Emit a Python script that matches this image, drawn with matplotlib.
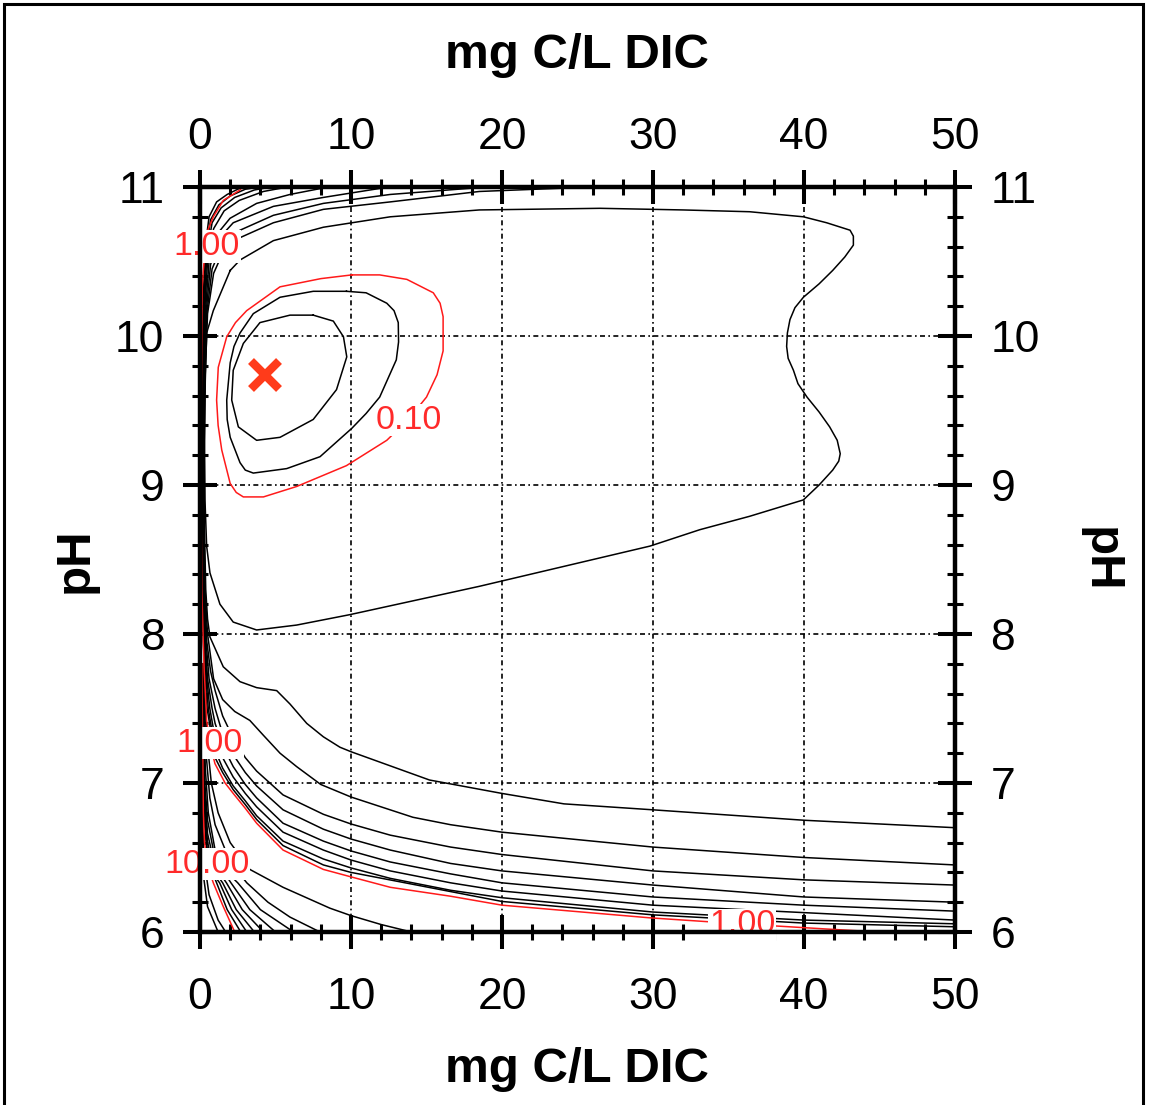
import matplotlib
matplotlib.use("Agg")
import matplotlib.pyplot as plt
from matplotlib.ticker import MultipleLocator
from matplotlib.patches import Rectangle

plt.rcParams['font.family'] = ['Liberation Sans', 'DejaVu Sans']

inner_x = [7.5, 5.96, 3.97, 2.87, 2.2, 2.1, 2.54, 3.75, 5.3, 7.5, 9.04, 9.72, 9.5, 8.83, 7.5]
inner_y = [10.14, 10.14, 10.09, 9.95, 9.77, 9.57, 9.39, 9.30, 9.32, 9.44, 9.64, 9.86, 9.995, 10.10, 10.14]

mid_x = [9.7, 7.5, 5.3, 3.53, 2.65, 2.25, 2.0, 1.77, 1.8, 2.0, 2.65, 3.0, 3.53, 5.74, 7.95, 10.05, 11.0, 11.9, 13.0,
         13.15, 13.13, 12.85, 12.37, 11.0, 9.7]
mid_y = [10.30, 10.30, 10.26, 10.15, 10.02, 9.93, 9.82, 9.57, 9.44, 9.32, 9.15, 9.10, 9.08, 9.11, 9.19, 9.38, 9.48,
         9.59, 9.84, 9.96, 10.09, 10.17, 10.22, 10.29, 10.30]

red010_x = [10.05, 8.0, 5.3, 3.09, 2.35, 1.77, 1.21, 1.1, 1.2, 1.44, 2.0, 2.4, 2.87, 4.2, 6.4, 9.7, 12.37, 13.8, 15.0,
            15.7, 16.1, 16.1, 15.9, 15.45, 13.7, 11.9, 10.05]
red010_y = [10.41, 10.385, 10.33, 10.17, 10.09, 9.995, 9.79, 9.57, 9.4, 9.235, 9.01, 8.95, 8.92, 8.92, 8.99, 9.13, 9.30,
            9.44, 9.59, 9.74, 9.9, 10.13, 10.22, 10.29, 10.38, 10.41, 10.41]

big_x = [2.0, 0.88, 0.44, 0.35, 0.30, 0.33, 0.44, 0.66, 1.32, 2.2, 3.75, 6.4, 9.93, 18.5, 29.8, 33.1, 36.4, 39.96,
         41.0, 41.9, 42.3, 42.4, 42.2, 41.7, 41.0, 40.2, 39.6, 39.3, 38.95, 38.85, 38.9, 39.07, 39.4, 39.96, 41.0,
         41.9, 42.7, 43.27, 43.27, 43.05, 41.5, 39.96, 36.4, 32.0, 26.5, 18.5, 12.6, 8.17, 4.86, 2.65, 2.0]
big_y = [10.44, 10.17, 10.02, 9.7, 9.3, 8.9, 8.59, 8.41, 8.20, 8.08, 8.027, 8.06, 8.13, 8.32, 8.59, 8.70, 8.79, 8.90,
         9.0, 9.10, 9.16, 9.21, 9.30, 9.39, 9.49, 9.59, 9.68, 9.77, 9.85, 9.93, 10.02, 10.11, 10.19, 10.26, 10.35,
         10.44, 10.53, 10.61, 10.67, 10.71, 10.76, 10.80, 10.834, 10.846, 10.857, 10.846, 10.80, 10.73, 10.64, 10.51,
         10.44]

# contours wrapping from the top edge, down the left edge, to the right edge
wrap1_x = [26, 18.5, 12.6, 8.17, 4.86, 2.65, 1.6, 0.9, 0.5, 0.33, 0.28, 0.3, 0.38, 0.5, 0.66, 1.54, 2.65, 3.75, 5.08,
           5.96, 7.07, 8.17, 9.27, 10.0, 15.2, 20.0, 24.1, 30.0, 40.0, 50.0]
wrap1_y = [11.0, 10.97, 10.90, 10.85, 10.76, 10.66, 10.58, 10.42, 10.15, 9.7, 9.2, 8.7, 8.3, 8.1, 7.98, 7.78, 7.68,
           7.64, 7.62, 7.53, 7.40, 7.31, 7.24, 7.21, 7.02, 6.93, 6.86, 6.82, 6.75, 6.70]

wrap2_x = [19, 12.6, 8.17, 4.86, 2.65, 1.5, 0.8, 0.45, 0.3, 0.25, 0.27, 0.33, 0.5, 0.9, 1.5, 2.3, 3.3, 4.2, 5.3, 6.4,
           8.0, 10, 14.1, 16.6, 20, 30, 40, 50]
wrap2_y = [11.0, 10.95, 10.89, 10.81, 10.71, 10.62, 10.45, 10.15, 9.7, 9.2, 8.7, 8.3, 8.0, 7.7, 7.56, 7.48, 7.42, 7.32,
           7.2, 7.11, 6.99, 6.906, 6.77, 6.72, 6.67, 6.57, 6.50, 6.45]

wrap3_x = [12.5, 8.17, 4.86, 2.2, 1.3, 0.7, 0.4, 0.27, 0.22, 0.24, 0.3, 0.45, 0.7, 1.0, 1.5, 2.2, 3.0, 3.75, 5.5, 8.17,
           10, 12.6, 16.6, 20, 30, 40, 50]
wrap3_y = [11.0, 10.93, 10.87, 10.76, 10.66, 10.48, 10.15, 9.7, 9.2, 8.7, 8.3, 7.95, 7.75, 7.62, 7.45, 7.3, 7.17, 7.08,
           6.92, 6.79, 6.725, 6.65, 6.57, 6.52, 6.41, 6.35, 6.315]

wrap4_x = [8.5, 5.96, 3.75, 1.99, 1.1, 0.6, 0.35, 0.24, 0.19, 0.21, 0.27, 0.4, 0.6, 1.0, 1.5, 2.2, 3.0, 3.75, 5.5, 8.17,
           10, 12.6, 16.6, 20, 30, 40, 50]
wrap4_y = [11.0, 10.95, 10.89, 10.79, 10.68, 10.5, 10.15, 9.7, 9.2, 8.7, 8.3, 7.95, 7.7, 7.5, 7.33, 7.19, 7.07, 6.98,
           6.82, 6.69, 6.624, 6.55, 6.46, 6.41, 6.315, 6.235, 6.20]

wrap5_x = [5.8, 4.2, 2.6, 1.6, 0.9, 0.5, 0.3, 0.21, 0.16, 0.18, 0.24, 0.35, 0.5, 0.8, 1.0, 1.5, 2.2, 3.0, 3.75, 5.5,
           8.17, 10, 12.6, 16.6, 20, 30, 40, 50]
wrap5_y = [11.0, 10.97, 10.91, 10.84, 10.72, 10.5, 10.15, 9.7, 9.2, 8.7, 8.3, 7.95, 7.7, 7.5, 7.4, 7.25, 7.11, 6.99,
           6.9, 6.73, 6.61, 6.544, 6.47, 6.39, 6.33, 6.235, 6.18, 6.14]

wrap6_x = [4.7, 3.6, 2.3, 1.4, 0.8, 0.45, 0.27, 0.18, 0.13, 0.15, 0.21, 0.3, 0.45, 0.65, 1.0, 1.5, 2.2, 3.0, 3.75, 5.5,
           8.17, 10, 12.6, 16.6, 20, 30, 40, 50]
wrap6_y = [11.0, 10.98, 10.93, 10.86, 10.76, 10.55, 10.15, 9.7, 9.2, 8.7, 8.3, 7.95, 7.7, 7.5, 7.3, 7.17, 7.04, 6.93,
           6.84, 6.67, 6.55, 6.483, 6.41, 6.33, 6.275, 6.18, 6.13, 6.08]

wrap7_x = [3.9, 3.0, 2.0, 1.25, 0.7, 0.4, 0.24, 0.15, 0.1, 0.12, 0.18, 0.26, 0.4, 0.55, 1.0, 1.5, 2.2, 3.0, 3.75, 5.5,
           8.17, 10, 12.6, 16.6, 20, 30, 40, 50]
wrap7_y = [11.0, 10.985, 10.94, 10.88, 10.78, 10.58, 10.2, 9.7, 9.2, 8.7, 8.3, 7.95, 7.7, 7.5, 7.22, 7.1, 6.98, 6.88,
           6.78, 6.61, 6.49, 6.43, 6.36, 6.28, 6.23, 6.134, 6.08, 6.055]

wrap8_x = [3.3, 2.6, 1.8, 1.1, 0.6, 0.35, 0.21, 0.12, 0.08, 0.1, 0.15, 0.22, 0.34, 0.47, 1.0, 1.5, 2.2, 3.0, 3.75,
           5.5, 8.17, 10, 20, 30, 40, 50]
wrap8_y = [11.0, 10.99, 10.95, 10.9, 10.8, 10.6, 10.25, 9.7, 9.2, 8.7, 8.3, 7.95, 7.7, 7.5, 7.17, 7.07, 6.955, 6.855,
           6.755, 6.58, 6.45, 6.40, 6.205, 6.115, 6.06, 6.035]

red100_x = [2.8, 2.65, 1.54, 0.88, 0.44, 0.22, 0.15, 0.09, 0.06, 0.08, 0.12, 0.2, 0.28, 0.38, 0.44, 0.7, 0.99, 1.66,
            2.2, 3.0, 3.75, 5.5, 8.17, 10, 12.6, 16.6, 20, 29.8, 33.5, 38.2, 41.5, 45]
red100_y = [11.0, 10.98, 10.91, 10.80, 10.69, 10.44, 10.33, 9.7, 9.2, 8.7, 8.3, 8.0, 7.75, 7.55, 7.42, 7.25, 7.13,
            7.0, 6.93, 6.83, 6.73, 6.55, 6.42, 6.37, 6.30, 6.24, 6.18, 6.095, 6.07, 6.04, 6.02, 6.0]

# lower-left fan (between the 1.00 and 10.00 contours, and inside 10.00)
m1_x = [0.22, 0.45, 0.75, 1.2, 2.0, 3.3, 5.5, 8.6, 10, 12, 14]
m1_y = [7.8, 7.3, 7.0, 6.8, 6.6, 6.42, 6.3, 6.16, 6.11, 6.05, 6.0]
m2_x = [0.2, 0.4, 0.65, 1.0, 2.0, 3.1, 4.5, 5.96, 7.95]
m2_y = [7.8, 7.2, 6.9, 6.72, 6.47, 6.33, 6.2, 6.10, 6.0]
f6_x = [0.18, 0.35, 0.55, 1.0, 1.6, 2.5, 4.0, 6.2]
f6_y = [7.8, 7.1, 6.8, 6.55, 6.42, 6.33, 6.15, 6.0]
f5_x = [0.17, 0.32, 0.5, 1.0, 2.05, 3.3, 5.0]
f5_y = [7.8, 7.0, 6.75, 6.49, 6.33, 6.15, 6.0]
f4_x = [0.16, 0.3, 0.5, 1.0, 1.75, 2.8, 4.2]
f4_y = [7.8, 6.95, 6.66, 6.44, 6.33, 6.15, 6.0]
f3_x = [0.15, 0.28, 0.5, 1.0, 1.5, 2.4, 3.6]
f3_y = [7.8, 6.9, 6.6, 6.4, 6.33, 6.15, 6.0]
f2_x = [0.14, 0.26, 0.5, 1.0, 1.3, 2.1, 3.1]
f2_y = [7.8, 6.85, 6.53, 6.37, 6.33, 6.15, 6.0]
f1_x = [0.13, 0.24, 0.5, 1.1, 1.8, 2.7]
f1_y = [7.8, 6.8, 6.48, 6.33, 6.15, 6.0]
red1000_x = [0.12, 0.18, 0.22, 0.3, 0.55, 0.88, 1.5, 2.3]
red1000_y = [7.8, 7.2, 6.8, 6.6, 6.43, 6.33, 6.18, 6.0]
g1_x = [0.1, 0.15, 0.25, 0.6, 1.2, 1.7]
g1_y = [7.8, 6.9, 6.5, 6.25, 6.08, 6.0]
g2_x = [0.08, 0.12, 0.2, 0.5, 1.2]
g2_y = [7.8, 6.8, 6.4, 6.17, 6.0]

# minimum marker
min_x = [4.3]
min_y = [9.74]

# contour labels: (text, x, y)
label_text = ["1.00", "0.10", "1.00", "10.00", "1.00"]
label_x = [0.46, 13.8, 0.66, 0.46, 35.9]
label_y = [10.60, 9.436, 7.268, 6.456, 6.047]

x_ticks = [0, 10, 20, 30, 40, 50]
y_ticks = [6, 7, 8, 9, 10, 11]

# ---------------- figure ----------------
W, H = 1157, 1105
fig = plt.figure(figsize=(W / 100, H / 100), dpi=100)
ax = fig.add_axes([200 / W, 1 - 932 / H, 755 / W, 745 / H])
ax.set_xlim(0, 50)
ax.set_ylim(6, 11)

black_lines = [(inner_x, inner_y), (mid_x, mid_y), (big_x, big_y),
               (wrap1_x, wrap1_y), (wrap2_x, wrap2_y), (wrap3_x, wrap3_y), (wrap4_x, wrap4_y),
               (wrap5_x, wrap5_y), (wrap6_x, wrap6_y), (wrap7_x, wrap7_y), (wrap8_x, wrap8_y),
               (m1_x, m1_y), (m2_x, m2_y), (f6_x, f6_y), (f5_x, f5_y), (f4_x, f4_y), (f3_x, f3_y),
               (f2_x, f2_y), (f1_x, f1_y), (g1_x, g1_y), (g2_x, g2_y)]
red_lines = [(red010_x, red010_y), (red100_x, red100_y), (red1000_x, red1000_y)]

for xs, ys in black_lines:
    ax.plot(xs, ys, color='black', lw=1.1, zorder=2, solid_joinstyle='round')
for xs, ys in red_lines:
    ax.plot(xs, ys, color='#ff1a1a', lw=1.1, zorder=2.05, solid_joinstyle='round')

ax.plot(min_x, min_y, marker='x', ls='none', color='#ff3b1a', ms=20, mew=6, zorder=4)

for t, lx, ly in zip(label_text, label_x, label_y):
    ax.text(lx, ly, t, color='#ff2a2a', fontsize=24.5, ha='center', va='center', zorder=2.3,
            bbox=dict(boxstyle='square,pad=0.02', fc='white', ec='none'), clip_on=False)

# axes styling
for s in ax.spines.values():
    s.set_linewidth(3.2)
    s.set_zorder(2.6)
ax.set_xticks(x_ticks)
ax.set_yticks(y_ticks)
ax.xaxis.set_minor_locator(MultipleLocator(2))
ax.yaxis.set_minor_locator(MultipleLocator(0.2))
ax.tick_params(which='major', direction='inout', length=24, width=2.9, top=True, right=True,
               labeltop=False, labelright=True, labelsize=32, pad=13.6)
ax.tick_params(which='minor', direction='inout', length=11.5, width=2.2, top=True, right=True)
ax.tick_params(axis='x', which='major', pad=20.4)

# top tick labels (own spacing)
sec = ax.secondary_xaxis('top')
sec.set_xticks(x_ticks)
sec.tick_params(axis='x', which='both', length=0, labelsize=32, pad=21)
sec.xaxis.set_minor_locator(MultipleLocator(100))
for s in sec.spines.values():
    s.set_visible(False)

ax.grid(True, which='major', color='black', lw=1.2, ls=(0, (3, 2, 1, 2)))
ax.set_axisbelow(True)

fig.text(577 / W, 1 - 55 / H, 'mg C/L DIC', fontsize=35.5, fontweight='bold', ha='center', va='center')
fig.text(577 / W, 1 - 1070 / H, 'mg C/L DIC', fontsize=35.5, fontweight='bold', ha='center', va='center')
fig.text(75 / W, 1 - 560 / H, 'pH', fontsize=35.5, fontweight='bold', ha='center', va='center', rotation=90)
fig.text(1100 / W, 1 - 560 / H, 'pH', fontsize=35.5, fontweight='bold', ha='center', va='center', rotation=-90)

# figure frame
fig.patches.append(Rectangle((4 / W, -0.01), (1143 - 4) / W, 1 - 4 / H + 0.01, transform=fig.transFigure,
                             fill=False, ec='black', lw=2.2))

fig.savefig('out.png', dpi=100)
